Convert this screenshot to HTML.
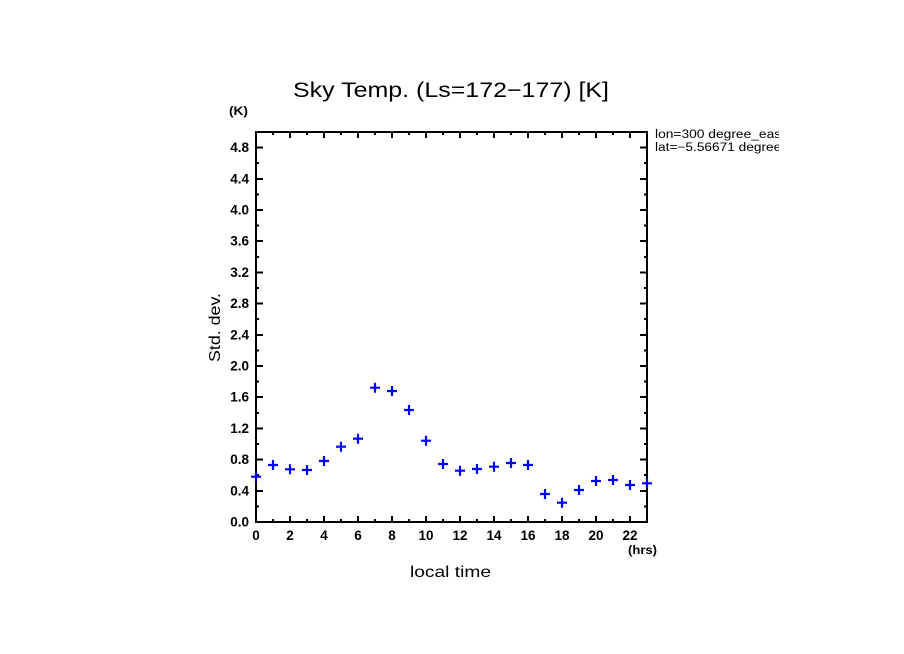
<!DOCTYPE html>
<html>
<head>
<meta charset="utf-8">
<style>
html,body{margin:0;padding:0;background:#fff;}
svg{display:block;}
text{font-family:"Liberation Sans",sans-serif;fill:#000;}
.t{font-size:13.5px;font-weight:bold;}
</style>
</head>
<body>
<svg width="904" height="654" viewBox="0 0 904 654" xmlns="http://www.w3.org/2000/svg">
<rect width="904" height="654" fill="#fff"/>
<defs><clipPath id="c"><rect x="600" y="100" width="179" height="80"/></clipPath></defs>

<!-- title -->
<text x="293" y="97" font-size="21" textLength="316" lengthAdjust="spacingAndGlyphs">Sky Temp. (Ls=172−177) [K]</text>

<!-- units -->
<text x="229" y="115" font-size="12" font-weight="bold" textLength="19" lengthAdjust="spacingAndGlyphs">(K)</text>
<text x="628" y="554" font-size="12" font-weight="bold" textLength="29" lengthAdjust="spacingAndGlyphs">(hrs)</text>

<!-- axis labels -->
<text x="410" y="577" font-size="16" textLength="81" lengthAdjust="spacingAndGlyphs">local time</text>
<text transform="translate(220,362) rotate(-90)" font-size="16" textLength="69" lengthAdjust="spacingAndGlyphs">Std. dev.</text>

<!-- lon/lat -->
<g clip-path="url(#c)">
<text x="655" y="138" font-size="11.5" textLength="130" lengthAdjust="spacingAndGlyphs">lon=300 degree_east</text>
<text x="655" y="151" font-size="11.5" textLength="165" lengthAdjust="spacingAndGlyphs">lat=−5.56671 degree_north</text>
</g>

<!-- frame -->
<g stroke="#000" stroke-width="2" fill="none" shape-rendering="crispEdges">
<rect x="256" y="132" width="391" height="390"/>
<path d="
M273 522v-3M290 522v-6M307 522v-3M324 522v-6M341 522v-3M358 522v-6M375 522v-3M392 522v-6M409 522v-3M426 522v-6M443 522v-3M460 522v-6M477 522v-3M494 522v-6M511 522v-3M528 522v-6M545 522v-3M562 522v-6M579 522v-3M596 522v-6M613 522v-3M630 522v-6
M273 132v3M290 132v6M307 132v3M324 132v6M341 132v3M358 132v6M375 132v3M392 132v6M409 132v3M426 132v6M443 132v3M460 132v6M477 132v3M494 132v6M511 132v3M528 132v6M545 132v3M562 132v6M579 132v3M596 132v6M613 132v3M630 132v6
"/>
<path d="
M256 506.4h3M256 490.8h7M256 475.2h3M256 459.6h7M256 444h3M256 428.4h7M256 412.8h3M256 397.2h7M256 381.6h3M256 366h7M256 350.4h3M256 334.8h7M256 319.2h3M256 303.6h7M256 288h3M256 272.4h7M256 256.8h3M256 241.2h7M256 225.6h3M256 210h7M256 194.4h3M256 178.8h7M256 163.2h3M256 147.6h7
M647 506.4h-3M647 490.8h-7M647 475.2h-3M647 459.6h-7M647 444h-3M647 428.4h-7M647 412.8h-3M647 397.2h-7M647 381.6h-3M647 366h-7M647 350.4h-3M647 334.8h-7M647 319.2h-3M647 303.6h-7M647 288h-3M647 272.4h-7M647 256.8h-3M647 241.2h-7M647 225.6h-3M647 210h-7M647 194.4h-3M647 178.8h-7M647 163.2h-3M647 147.6h-7
"/>
</g>

<!-- y tick labels -->
<g class="t" text-anchor="end">
<text x="249" y="526.5">0.0</text>
<text x="249" y="495.3">0.4</text>
<text x="249" y="464.1">0.8</text>
<text x="249" y="432.9">1.2</text>
<text x="249" y="401.7">1.6</text>
<text x="249" y="370.5">2.0</text>
<text x="249" y="339.3">2.4</text>
<text x="249" y="308.1">2.8</text>
<text x="249" y="276.9">3.2</text>
<text x="249" y="245.7">3.6</text>
<text x="249" y="214.5">4.0</text>
<text x="249" y="183.3">4.4</text>
<text x="249" y="152.1">4.8</text>
</g>

<!-- x tick labels -->
<g class="t" text-anchor="middle">
<text x="256" y="540">0</text>
<text x="290" y="540">2</text>
<text x="324" y="540">4</text>
<text x="358" y="540">6</text>
<text x="392" y="540">8</text>
<text x="426" y="540">10</text>
<text x="460" y="540">12</text>
<text x="494" y="540">14</text>
<text x="528" y="540">16</text>
<text x="562" y="540">18</text>
<text x="596" y="540">20</text>
<text x="630" y="540">22</text>
</g>

<!-- data markers -->
<g stroke="#0000ff" stroke-width="2.2" fill="none">
<path d="
M251 476.7h10M256 471.7v10
M268 465h10M273 460v10
M285 469.3h10M290 464.3v10
M302 470h10M307 465v10
M319 461h10M324 456v10
M336 446.7h10M341 441.7v10
M353 438.7h10M358 433.7v10
M370 387.7h10M375 382.7v10
M387 391h10M392 386v10
M404 410h10M409 405v10
M421 440.7h10M426 435.7v10
M438 464h10M443 459v10
M455 470.7h10M460 465.7v10
M472 469h10M477 464v10
M489 466.7h10M494 461.7v10
M506 463h10M511 458v10
M523 465h10M528 460v10
M540 494h10M545 489v10
M557 502.7h10M562 497.7v10
M574 490h10M579 485v10
M591 481h10M596 476v10
M608 480h10M613 475v10
M625 485h10M630 480v10
M642 483.3h10M647 478.3v10
"/>
</g>
</svg>
</body>
</html>
